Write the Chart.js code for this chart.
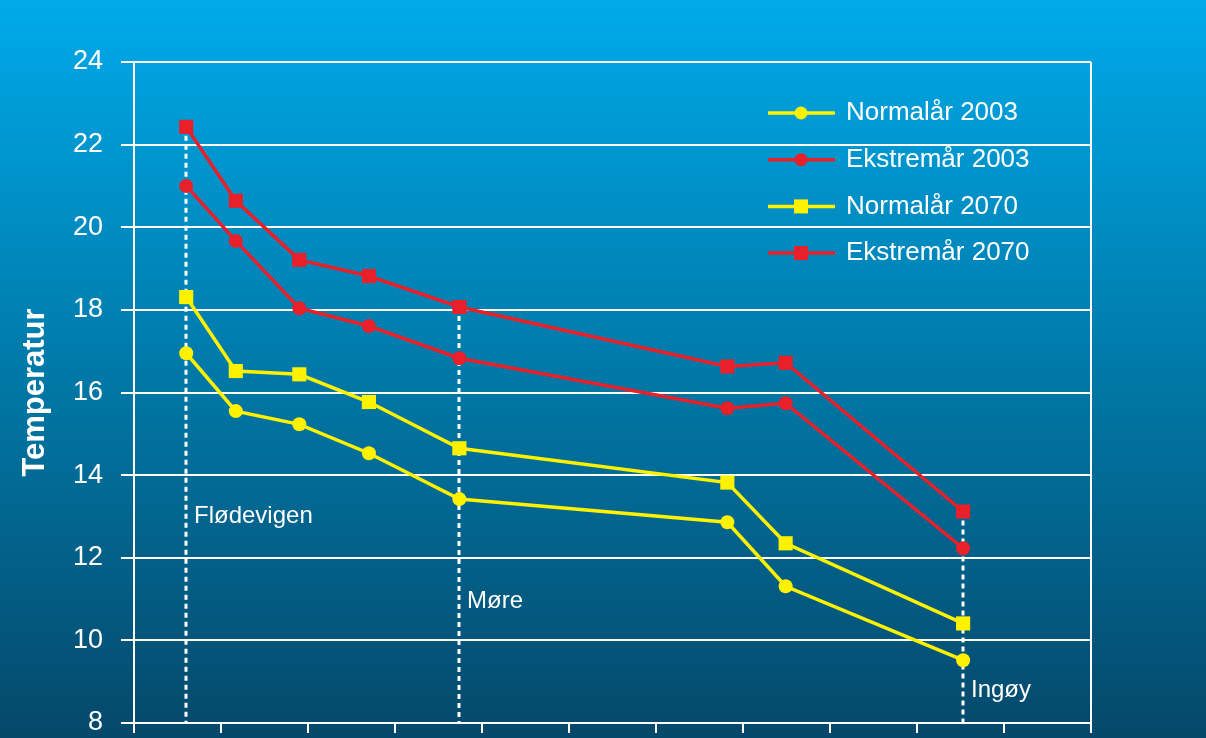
<!DOCTYPE html>
<html>
<head>
<meta charset="utf-8">
<script src="https://cdn.jsdelivr.net/npm/chart.js@4/dist/chart.umd.min.js"></script>
<style>
  html, body { margin: 0; padding: 0; background: #05486a; }
  #wrap { width: 1206px; height: 738px; }
</style>
</head>
<body>
<div id="wrap"><canvas id="temperatur"></canvas></div>
<script>
// posisjon langs kysten (x) for hver stasjon
var stasjonX = [0.6, 1.17, 1.9, 2.7, 3.74, 6.82, 7.49, 9.53];

var normal2003 = [16.95, 15.55, 15.23, 14.53, 13.42, 12.86, 11.31, 9.52];
var ekstrem2003 = [21.0, 19.67, 18.04, 17.61, 16.83, 15.62, 15.74, 12.23];
var normal2070 = [18.31, 16.52, 16.44, 15.77, 14.65, 13.82, 12.35, 10.41];
var ekstrem2070 = [22.43, 20.64, 19.21, 18.82, 18.07, 16.63, 16.72, 13.12];

var serieNavn = ['Normalår 2003', 'Ekstremår 2003', 'Normalår 2070', 'Ekstremår 2070'];
var stedNavn = ['Flødevigen', 'Møre', 'Ingøy'];
var stedIndeks = [0, 4, 7];
var yTicks = [8, 10, 12, 14, 16, 18, 20, 22, 24];

var GUL = '#fff200';
var ROD = '#e8202a';
var FONT = "'Liberation Sans', Arial, sans-serif";

function punkter(verdier) {
    return verdier.map((v, i) => ({ x: stasjonX[i], y: v }));
}

function serie(navn, verdier, farge, stil) {
    return {
        label: navn,
        data: punkter(verdier),
        borderColor: farge,
        backgroundColor: farge,
        borderWidth: 3.5,
        pointStyle: stil,
        pointRadius: stil === 'rect' ? 10 : 7,
        pointBorderWidth: 0,
        pointHoverRadius: stil === 'rect' ? 10 : 7,
        tension: 0
    };
}

// bakgrunn med fargeovergang
var bakgrunn = {
    id: 'bakgrunn',
    beforeDraw(chart) {
        let ctx = chart.ctx;
        let g = ctx.createLinearGradient(0, 0, 0, chart.height);
        g.addColorStop(0, '#00aaea');
        g.addColorStop(0.5, '#0079a8');
        g.addColorStop(1, '#05486a');
        ctx.save();
        ctx.fillStyle = g;
        ctx.fillRect(0, 0, chart.width, chart.height);
        ctx.restore();
    }
};

// stiplede linjer og stedsnavn
var steder = {
    id: 'steder',
    beforeDatasetsDraw(chart) {
        let ctx = chart.ctx;
        let x = chart.scales.x, y = chart.scales.y;
        let bunn = chart.chartArea.bottom;
        let etikettY = [13.0, 10.95, 8.8];
        ctx.save();
        ctx.strokeStyle = '#ffffff';
        ctx.lineWidth = 3;
        ctx.setLineDash([5, 4]);
        stedIndeks.forEach((idx, n) => {
            let px = Math.round(x.getPixelForValue(stasjonX[idx]));
            let topp = Math.max(normal2003[idx], ekstrem2003[idx], normal2070[idx], ekstrem2070[idx]);
            ctx.beginPath();
            ctx.moveTo(px, y.getPixelForValue(topp));
            ctx.lineTo(px, bunn);
            ctx.stroke();
            ctx.fillStyle = '#ffffff';
            ctx.font = '24px ' + FONT;
            ctx.textAlign = 'left';
            ctx.textBaseline = 'middle';
            ctx.fillText(stedNavn[n], px + 8, y.getPixelForValue(etikettY[n]));
        });
        ctx.restore();
    },
    afterDraw(chart) {
        // høyre ramme
        let ctx = chart.ctx;
        let a = chart.chartArea;
        ctx.save();
        ctx.strokeStyle = '#ffffff';
        ctx.lineWidth = 2;
        ctx.beginPath();
        ctx.moveTo(a.right, a.top);
        ctx.lineTo(a.right, a.bottom);
        ctx.stroke();
        ctx.restore();
    }
};

// tegnforklaring med linje og markør
var forklaring = {
    id: 'forklaring',
    afterDraw(chart) {
        let ctx = chart.ctx;
        ctx.save();
        chart.data.datasets.forEach((ds, i) => {
            let ly = 113 + i * 46.7;
            ctx.strokeStyle = ds.borderColor;
            ctx.lineWidth = 3.5;
            ctx.beginPath();
            ctx.moveTo(768, ly);
            ctx.lineTo(835, ly);
            ctx.stroke();
            ctx.fillStyle = ds.backgroundColor;
            ctx.beginPath();
            if (ds.pointStyle === 'rect') {
                ctx.rect(794, ly - 7, 14, 14);
            } else {
                ctx.arc(801, ly, 6.5, 0, Math.PI * 2);
            }
            ctx.fill();
            ctx.fillStyle = '#ffffff';
            ctx.font = '26px ' + FONT;
            ctx.textAlign = 'left';
            ctx.textBaseline = 'middle';
            ctx.fillText(ds.label, 846, ly);
        });
        ctx.restore();
    }
};

var contexto = document.getElementById('temperatur').getContext('2d');
var grafTemperatur = new Chart(contexto, {
    type: 'line',
    data: {
        datasets: [
            serie(serieNavn[0], normal2003, GUL, 'circle'),
            serie(serieNavn[1], ekstrem2003, ROD, 'circle'),
            serie(serieNavn[2], normal2070, GUL, 'rect'),
            serie(serieNavn[3], ekstrem2070, ROD, 'rect')
        ]
    },
    options: {
        responsive: true,
        maintainAspectRatio: false,
        animation: false,
        layout: { padding: { top: 62, right: 115, left: 0, bottom: 0 } },
        plugins: {
            legend: { display: false },
            tooltip: { enabled: false }
        },
        scales: {
            x: {
                type: 'linear',
                min: 0,
                max: 11,
                ticks: { stepSize: 1, callback: () => '' },
                grid: {
                    drawOnChartArea: false,
                    drawTicks: true,
                    tickLength: 10,
                    color: '#ffffff',
                    lineWidth: 2
                },
                border: { color: '#ffffff', width: 2 },
                afterFit: s => { s.height = 15; }
            },
            y: {
                min: 8,
                max: 24,
                afterBuildTicks: s => { s.ticks = yTicks.map(v => ({ value: v })); },
                ticks: {
                    color: '#ffffff',
                    font: { family: FONT, size: 27 },
                    padding: 18
                },
                grid: {
                    color: '#ffffff',
                    lineWidth: 2,
                    tickLength: 13
                },
                border: { color: '#ffffff', width: 2 },
                title: {
                    display: true,
                    text: 'Temperatur',
                    color: '#ffffff',
                    font: { family: FONT, size: 31, weight: 'bold' },
                    padding: { top: 17, bottom: 0 }
                },
                afterFit: s => {
                    s.width = 134;
                    s.paddingBottom = 0;
                    s.paddingTop = 0;
                }
            }
        }
    },
    plugins: [bakgrunn, steder, forklaring]
});
</script>
</body>
</html>
